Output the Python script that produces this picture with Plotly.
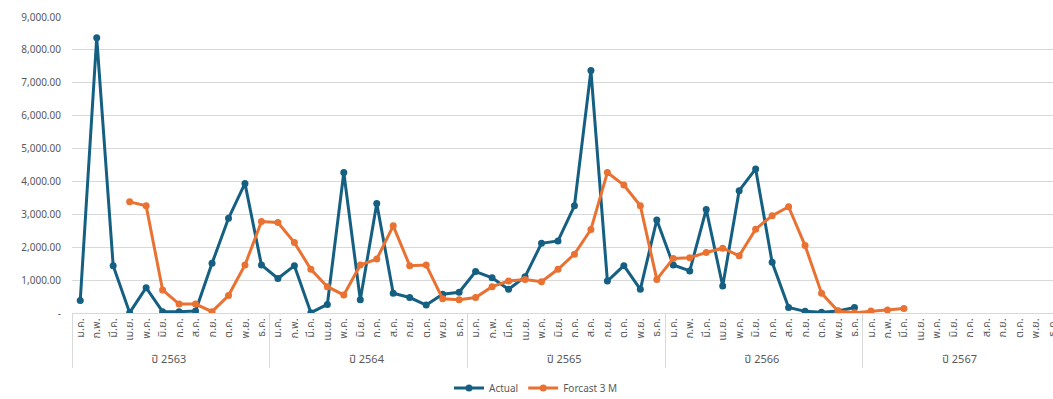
import plotly.graph_objects as go

# Thai month abbreviations and Buddhist-era years
months = ["ม.ค.", "ก.พ.", "มี.ค.", "เม.ย.", "พ.ค.", "มิ.ย.",
          "ก.ค.", "ส.ค.", "ก.ย.", "ต.ค.", "พ.ย.", "ธ.ค."]
years = ["ปี 2563", "ปี 2564", "ปี 2565", "ปี 2566", "ปี 2567"]

# Actual: ม.ค. 2563 – ธ.ค. 2566
actual = [380, 8370, 1440, 10, 770, 40, 40, 60, 1510, 2880, 3940, 1460,
          1050, 1440, 10, 260, 4270, 400, 3330, 600, 470, 240, 570, 630,
          1260, 1070, 720, 1100, 2120, 2190, 3260, 7370, 970, 1440, 720, 2830,
          1460, 1280, 3150, 820, 3720, 4380, 1540, 170, 50, 20, 60, 170]

# 3-month forecast: เม.ย. 2563 – มี.ค. 2567
forecast_start = 3
forecast = [3380, 3260, 700, 270, 270, 40, 530, 1460, 2780,
            2750, 2140, 1330, 800, 550, 1460, 1640, 2650, 1440, 1460, 430, 400,
            470, 800, 970, 1020, 950, 1330, 1790, 2540, 4270, 3890, 3260, 1020,
            1660, 1680, 1840, 1970, 1740, 2550, 2960, 3230, 2050, 600, 60, 10,
            60, 90, 140]

y_ticks = [0, 1000, 2000, 3000, 4000, 5000, 6000, 7000, 8000, 9000]
y_ticktext = ["-"] + [f"{v:,.2f}" for v in y_ticks[1:]]

n = len(years) * len(months)
x_years = [y for y in years for _ in months]
x_months = [m for _ in years for m in months]

actual_full = actual + [None] * (n - len(actual))
forecast_full = ([None] * forecast_start + forecast
                 + [None] * (n - forecast_start - len(forecast)))

BLUE = "#156082"
ORANGE = "#E97132"
FONT = "Noto Sans Thai, Noto Sans, DejaVu Sans, sans-serif"

fig = go.Figure()
fig.add_trace(go.Scatter(
    x=[x_years, x_months], y=actual_full, name="Actual",
    mode="lines+markers", connectgaps=False,
    line=dict(color=BLUE, width=3), marker=dict(color=BLUE, size=7),
))
fig.add_trace(go.Scatter(
    x=[x_years, x_months], y=forecast_full, name="Forcast 3 M",
    mode="lines+markers", connectgaps=False,
    line=dict(color=ORANGE, width=3), marker=dict(color=ORANGE, size=7),
))

fig.update_layout(
    width=1053, height=399,
    margin=dict(l=72, r=0, t=17, b=86, autoexpand=False),
    paper_bgcolor="white", plot_bgcolor="white",
    font=dict(family=FONT, color="#595959", size=10),
    showlegend=True,
    legend=dict(orientation="h", x=0.473, xanchor="center", y=-0.253,
                yanchor="middle", font=dict(size=10, color="#595959"),
                itemwidth=30, tracegroupgap=0),
)
fig.update_xaxes(
    type="multicategory",
    range=[-0.5, 59.05],
    automargin=False,
    tickangle=-90,
    tickfont=dict(size=11, color="#595959"),
    showline=True, linecolor="#d9d9d9", linewidth=1,
    showgrid=False, ticks="",
    showdividers=True, dividercolor="#d9d9d9", dividerwidth=1,
)
fig.update_yaxes(
    range=[0, 9000],
    automargin=False,
    tickvals=y_ticks, ticktext=y_ticktext,
    tickfont=dict(size=10, color="#595959"),
    showgrid=True, gridcolor="#d9d9d9", gridwidth=1,
    zeroline=False, showline=False, ticks="",
    ticklabelstandoff=10,
)

fig.write_html("out.html")
